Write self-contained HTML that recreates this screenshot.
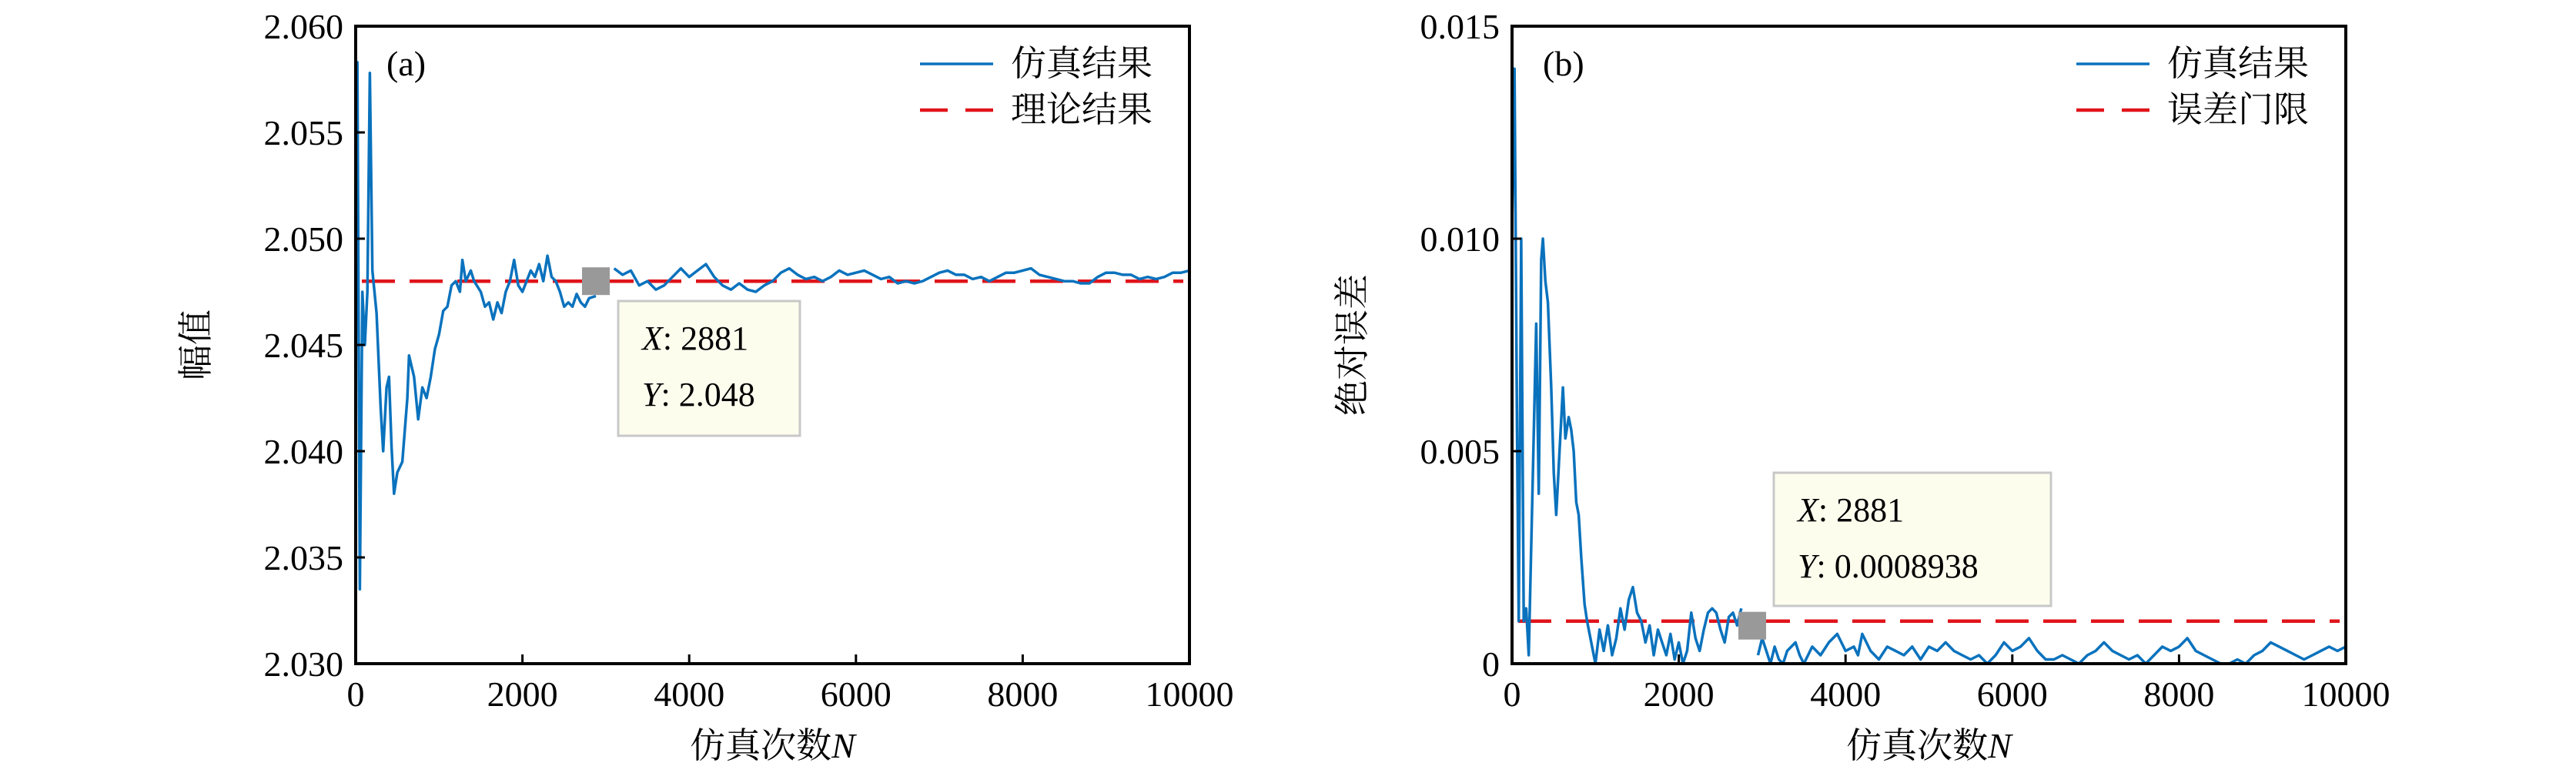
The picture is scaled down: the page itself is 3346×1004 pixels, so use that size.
<!DOCTYPE html>
<html><head><meta charset="utf-8">
<style>
html,body{margin:0;padding:0;background:#fff;}
svg{display:block;}
text{font-family:"Liberation Serif","Noto Serif CJK SC",serif;fill:#000;}
</style></head>
<body>
<svg id="fig" width="3346" height="1004" viewBox="0 0 3346 1004" xmlns="http://www.w3.org/2000/svg">
</svg>
<script>
// ---- Panel (a) data ----
const aX = [0,20,50,80,110,140,170,200,250,300,330,370,400,430,460,500,560,620,640,700,750,800,850,900,950,1000,1050,1100,1150,1200,1250,1280,1320,1380,1420,1500,1550,1600,1650,1700,1750,1800,1850,1900,1950,2000,2050,2100,2150,2200,2250,2300,2350,2400,2450,2500,2550,2600,2650,2700,2750,2800,2881];
const aY = [2.0475,2.0583,2.0335,2.0475,2.0450,2.0475,2.0578,2.0485,2.0465,2.0420,2.0400,2.0430,2.0435,2.0402,2.0380,2.0390,2.0395,2.0425,2.0445,2.0435,2.0415,2.0430,2.0425,2.0435,2.0448,2.0455,2.0466,2.0468,2.0478,2.0480,2.0475,2.0490,2.0480,2.0485,2.0480,2.0475,2.0468,2.0470,2.0462,2.0470,2.0465,2.0475,2.0480,2.0490,2.0478,2.0475,2.0480,2.0485,2.0482,2.0488,2.0480,2.0492,2.0482,2.0480,2.0475,2.0468,2.0470,2.0468,2.0474,2.0470,2.0468,2.0472,2.0473];
const aX2 = [3100,3200,3300,3400,3500,3600,3700,3800,3900,4000,4100,4200,4300,4400,4500,4600,4700,4800,4900,5000,5100,5200,5300,5400,5500,5600,5700,5800,5900,6000,6100,6200,6300,6400,6500,6600,6700,6800,6900,7000,7100,7200,7300,7400,7500,7600,7700,7800,7900,8000,8100,8200,8300,8400,8500,8600,8700,8800,8900,9000,9100,9200,9300,9400,9500,9600,9700,9800,9900,10000];
const aY2 = [2.0486,2.0483,2.0485,2.0478,2.0480,2.0476,2.0478,2.0482,2.0486,2.0482,2.0485,2.0488,2.0482,2.0478,2.0476,2.0479,2.0476,2.0475,2.0478,2.0480,2.0484,2.0486,2.0483,2.0481,2.0482,2.0480,2.0482,2.0485,2.0483,2.0484,2.0485,2.0483,2.0481,2.0482,2.0479,2.0480,2.0479,2.0480,2.0482,2.0484,2.0485,2.0483,2.0483,2.0481,2.0482,2.0480,2.0482,2.0484,2.0484,2.0485,2.0486,2.0483,2.0482,2.0481,2.0480,2.0480,2.0479,2.0479,2.0482,2.0484,2.0484,2.0483,2.0483,2.0481,2.0482,2.0481,2.0482,2.0484,2.0484,2.0485];
const aTheory = 2.048;
const aYTicks = [2.030,2.035,2.040,2.045,2.050,2.055,2.060];
const aYTickLabels = ["2.030","2.035","2.040","2.045","2.050","2.055","2.060"];
// ---- Panel (b) data (x 1e-3) ----
const bX = [0,30,60,80,110,140,170,200,250,290,320,350,370,400,430,470,500,530,570,610,640,680,710,740,770,800,830,870,900,950,1000,1050,1100,1150,1200,1250,1300,1350,1400,1450,1500,1550,1600,1650,1700,1750,1800,1850,1900,1950,2000,2050,2100,2150,2200,2250,2300,2350,2400,2450,2500,2550,2600,2650,2700,2750];
const bY = [10.3,14.0,5.5,1.0,10.0,1.0,1.3,0.2,4.5,8.0,4.0,9.5,10.0,9.0,8.5,6.5,4.5,3.5,5.0,6.5,5.3,5.8,5.5,5.0,3.8,3.5,2.5,1.4,1.0,0.5,0.0,0.8,0.3,0.9,0.2,0.6,1.3,0.8,1.5,1.8,1.2,1.0,0.5,0.9,0.2,0.8,0.5,0.2,0.7,0.1,0.5,0.0,0.3,1.2,0.6,0.3,0.8,1.2,1.3,1.2,0.8,0.5,1.1,1.2,0.9,1.3];
const bX2 = [2950,3000,3050,3100,3150,3200,3250,3300,3400,3450,3500,3600,3700,3800,3900,4000,4100,4150,4200,4300,4400,4500,4600,4700,4800,4900,5000,5100,5200,5300,5400,5500,5600,5700,5800,5900,6000,6100,6200,6300,6400,6500,6600,6700,6800,6900,7000,7100,7200,7300,7400,7500,7600,7700,7800,7900,8000,8100,8200,8300,8400,8500,8600,8700,8800,8900,9000,9100,9200,9300,9400,9500,9600,9700,9800,9900,10000];
const bY2 = [0.2,0.6,0.3,0.0,0.4,0.1,0.0,0.3,0.5,0.2,0.0,0.4,0.2,0.5,0.7,0.3,0.4,0.2,0.7,0.3,0.1,0.4,0.3,0.2,0.4,0.1,0.4,0.3,0.5,0.3,0.2,0.1,0.2,0.0,0.2,0.5,0.3,0.4,0.6,0.3,0.1,0.1,0.2,0.1,0.0,0.2,0.3,0.5,0.3,0.2,0.1,0.2,0.0,0.2,0.4,0.3,0.4,0.6,0.3,0.2,0.1,0.0,0.0,0.1,0.0,0.2,0.3,0.5,0.4,0.3,0.2,0.1,0.2,0.3,0.4,0.3,0.4];
const bThreshold = 1.0;
const bYTicks = [0,5,10,15];
const bYTickLabels = ["0","0.005","0.010","0.015"];
const xTicks = [0,2000,4000,6000,8000,10000];
const xTickLabels = ["0","2000","4000","6000","8000","10000"];

const NS = "http://www.w3.org/2000/svg";
const svg = document.getElementById('fig');
function mk(tag, attrs, parent, txt){
  const e = document.createElementNS(NS, tag);
  for (const k in attrs) e.setAttribute(k, attrs[k]);
  if (txt !== undefined) e.textContent = txt;
  (parent||svg).appendChild(e);
  return e;
}
function panel(cfg){
  const L=cfg.left, R=cfg.left+1083, T=34, B=862;
  const sx = v => L + (v-0)/10000*(R-L);
  const sy = v => B - (v-cfg.ymin)/(cfg.ymax-cfg.ymin)*(B-T);
  const g = mk('g', {});
  
  
  // clip
  const cp = mk('clipPath', {id:'clip-'+cfg.name}, g);
  mk('rect', {x:L, y:T, width:R-L, height:B-T}, cp);
  // threshold line
  const th = mk('line', {x1:sx(0)+8, x2:R-8, y1:sy(cfg.th), y2:sy(cfg.th), stroke:'#e0141a', 'stroke-width':4.5, 'stroke-dasharray':'43 19'}, g);
  
  
  // series
  [[cfg.x1,cfg.y1],[cfg.x2,cfg.y2]].forEach((s,i)=>{
    const d = s[0].map((x,j)=>(j?'L':'M')+sx(x).toFixed(1)+' '+sy(s[1][j]).toFixed(1)).join(' ');
    const p = mk('path', {d:d, fill:'none', stroke:'#0a72bd', 'stroke-width':3.5, 'stroke-linejoin':'round', 'clip-path':'url(#clip-'+cfg.name+')'}, g);
    
    
  });
  // frame
  const fr = mk('rect', {x:L, y:T, width:R-L, height:B-T, fill:'none', stroke:'#000', 'stroke-width':4}, g);
  
  
  // y ticks
  cfg.yt.forEach((v,i)=>{
    const y = sy(v);
    mk('line', {x1:L, x2:L+12, y1:y, y2:y, stroke:'#000', 'stroke-width':3}, g);
    const t = mk('text', {x:L-16, y:y+16, 'text-anchor':'end', 'font-size':46}, g, cfg.ytl[i]);
    
    
  });
  xTicks.forEach((v,i)=>{
    const x = sx(v);
    mk('line', {x1:x, x2:x, y1:B, y2:B-12, stroke:'#000', 'stroke-width':3}, g);
    const t = mk('text', {x:x, y:917, 'text-anchor':'middle', 'font-size':46}, g, xTickLabels[i]);
    
    
  });
  // x title
  const xt = mk('text', {x:(L+R)/2, y:984, 'text-anchor':'middle', 'font-size':46}, g);
  
  
  mk('tspan', {}, xt, '仿真次数');
  mk('tspan', {'font-style':'italic'}, xt, 'N');
  // y title
  const yt = mk('text', {x:cfg.ytx, y:cfg.yty, 'text-anchor':'middle', 'font-size':46, transform:'rotate(-90 '+cfg.ytx+' '+cfg.yty+')'}, g, cfg.ytitle);
  
  
  // panel label
  const pl = mk('text', {x:L+40, y:98, 'font-size':46}, g, cfg.label);
  
  
  // legend
  const lg = mk('g', {}, g);
  
  
  mk('line', {x1:R-350, x2:R-255, y1:83, y2:83, stroke:'#0a72bd', 'stroke-width':3.5}, lg);
  mk('text', {x:R-232, y:98, 'font-size':46}, lg, '仿真结果');
  mk('line', {x1:R-350, x2:R-255, y1:143, y2:143, stroke:'#e0141a', 'stroke-width':4.5, 'stroke-dasharray':'36 23'}, lg);
  mk('text', {x:R-232, y:158, 'font-size':46}, lg, cfg.thLabel);
  // data tip
  const tip = mk('g', {}, g);
  
  
  const mx = sx(2881), my = sy(cfg.tipY);
  mk('rect', {x:mx-18, y:my-18, width:36, height:36, fill:'#999'}, tip);
  mk('rect', {x:cfg.tip[0], y:cfg.tip[1], width:cfg.tip[2], height:cfg.tip[3], fill:'#fdfdee', stroke:'#c8c8c8', 'stroke-width':3}, tip);
  const t1 = mk('text', {x:cfg.tip[0]+31, y:cfg.tip[1]+63, 'font-size':44}, tip);
  mk('tspan', {'font-style':'italic'}, t1, 'X');
  mk('tspan', {}, t1, ': 2881');
  const t2 = mk('text', {x:cfg.tip[0]+31, y:cfg.tip[1]+136, 'font-size':44}, tip);
  mk('tspan', {'font-style':'italic'}, t2, 'Y');
  mk('tspan', {}, t2, ': '+cfg.tipText);
}
panel({name:'panel-a', left:462, ymin:2.030, ymax:2.060, x1:aX, y1:aY, x2:aX2, y2:aY2, th:aTheory,
  yt:aYTicks, ytl:aYTickLabels, ytitle:'幅值', ytx:270, yty:448, label:'(a)', thName:'theory-line', thLabel:'理论结果',
  tipY:2.048, tip:[803,391,236,175], tipText:'2.048'});
panel({name:'panel-b', left:1964, ymin:0, ymax:15, x1:bX, y1:bY, x2:bX2, y2:bY2, th:bThreshold,
  yt:bYTicks, ytl:bYTickLabels, ytitle:'绝对误差', ytx:1772, yty:448, label:'(b)', thName:'error-threshold-line', thLabel:'误差门限',
  tipY:0.8938, tip:[2304,614,360,173], tipText:'0.0008938'});
</script>
</body></html>
